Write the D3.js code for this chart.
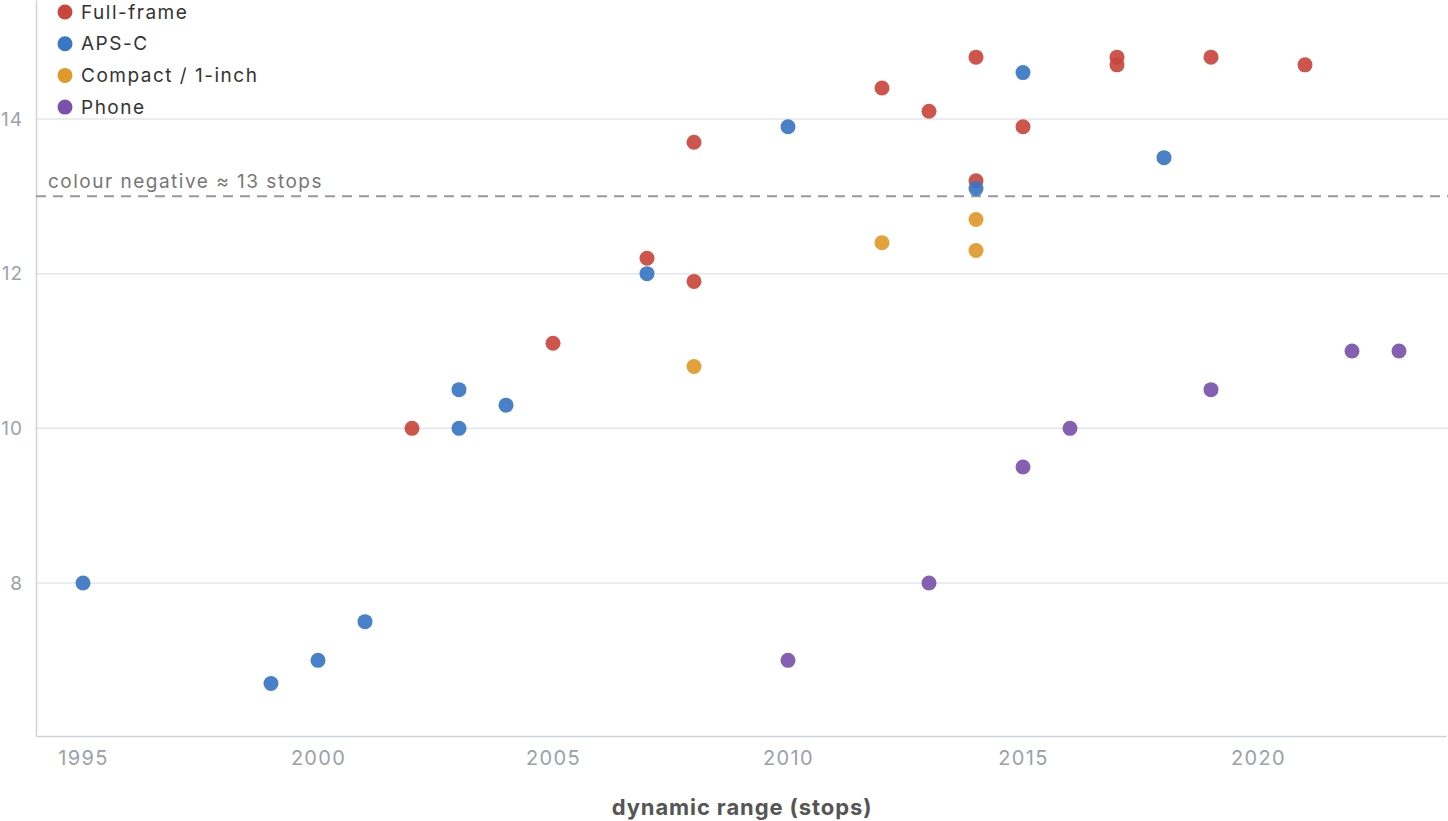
<!DOCTYPE html>
<html>
<head>
<style>
  body, html { margin: 0; padding: 0; background: #fff; }
  text { font-family: Inter, "Noto Sans", sans-serif; }
</style>
</head>
<body>
<svg id="svg" width="1448" height="821"></svg>
<script src="https://d3js.org/d3.v7.min.js"></script>
<script>
// categories and their points (year, stops)
const categories = ['Full-frame', 'APS-C', 'Compact / 1-inch', 'Phone']
const colors = ['#c9463d', '#3a76c4', '#e0992a', '#7b52ab']

const fullFrame = [[2002, 10], [2005, 11.1], [2007, 12.2], [2008, 13.7], [2008, 11.9],
  [2012, 14.4], [2013, 14.1], [2014, 14.8], [2014, 13.2], [2015, 13.9],
  [2017, 14.8], [2017, 14.7], [2019, 14.8], [2021, 14.7]]
const apsc = [[1995, 8], [1999, 6.7], [2000, 7], [2001, 7.5], [2003, 10.5], [2003, 10],
  [2004, 10.3], [2007, 12], [2010, 13.9], [2014, 13.1], [2015, 14.6], [2018, 13.5]]
const compact = [[2008, 10.8], [2012, 12.4], [2014, 12.7], [2014, 12.3]]
const phone = [[2010, 7], [2013, 8], [2015, 9.5], [2016, 10], [2019, 10.5], [2022, 11], [2023, 11]]

const xTicks = [1995, 2000, 2005, 2010, 2015, 2020]
const yTicks = [8, 10, 12, 14]
const refValue = 13
const refLabel = 'colour negative ≈ 13 stops'
const xTitle = 'dynamic range (stops)'

const series = [fullFrame, apsc, compact, phone]

const svg = d3.select('#svg')
const x = d3.scaleLinear().domain([1994, 2024]).range([36, 1446])
const y = d3.scaleLinear().domain([8, 14]).range([583, 119])
const yBottom = 736

// grid
svg.append('g').selectAll('line').data(yTicks).join('line')
  .attr('x1', 36).attr('x2', 1448)
  .attr('y1', d => y(d)).attr('y2', d => y(d))
  .attr('stroke', '#e3e6ea').attr('stroke-width', 1.5)

// y axis
const yAxis = svg.append('g').attr('transform', 'translate(36,0)')
  .call(d3.axisLeft(y.copy().domain([y.invert(yBottom), y.invert(0)]).range([yBottom, 0]))
    .tickValues(yTicks).tickSize(0).tickPadding(13))
yAxis.select('.domain').attr('stroke', '#cdd3da').attr('stroke-width', 1.5)
yAxis.selectAll('text').attr('fill', '#9aa1ab').style('font-size', '19px').style('letter-spacing', '1px')

// x axis
const xAxis = svg.append('g').attr('transform', `translate(0,${yBottom})`)
  .call(d3.axisBottom(x).tickValues(xTicks).tickFormat(d3.format('d')).tickSize(0).tickPadding(15))
xAxis.select('.domain').attr('stroke', '#cdd3da').attr('stroke-width', 1.5)
xAxis.selectAll('text').attr('fill', '#9aa1ab').style('font-size', '20px').style('letter-spacing', '1.3px')

svg.append('text')
  .attr('x', 742).attr('y', 815)
  .attr('text-anchor', 'middle')
  .attr('fill', '#555').style('font-size', '22px').style('font-weight', 'bold')
  .style('letter-spacing', '0.9px')
  .text(xTitle)

// reference line
svg.append('line')
  .attr('x1', 36).attr('x2', 1448)
  .attr('y1', y(refValue)).attr('y2', y(refValue))
  .attr('stroke', '#999').attr('stroke-width', 2).attr('stroke-dasharray', '10,7')
svg.append('text')
  .attr('x', 48).attr('y', y(refValue) - 8)
  .attr('fill', '#777').style('font-size', '19px').style('letter-spacing', '1.5px')
  .text(refLabel)

// points
series.forEach((pts, i) => {
  svg.append('g').selectAll('circle').data(pts).join('circle')
    .attr('cx', d => x(d[0])).attr('cy', d => y(d[1]))
    .attr('r', 7.5).attr('fill', colors[i]).attr('fill-opacity', 0.92)
})

// legend
const legend = svg.append('g').selectAll('g').data(categories).join('g')
  .attr('transform', (d, i) => `translate(65,${12 + i * 31.7})`)
legend.append('circle').attr('r', 7.5).attr('fill', (d, i) => colors[i])
legend.append('text').attr('x', 16).attr('dy', '0.35em')
  .attr('fill', '#333').style('font-size', '19px').style('letter-spacing', '1.5px').text(d => d)
</script>
</body>
</html>
